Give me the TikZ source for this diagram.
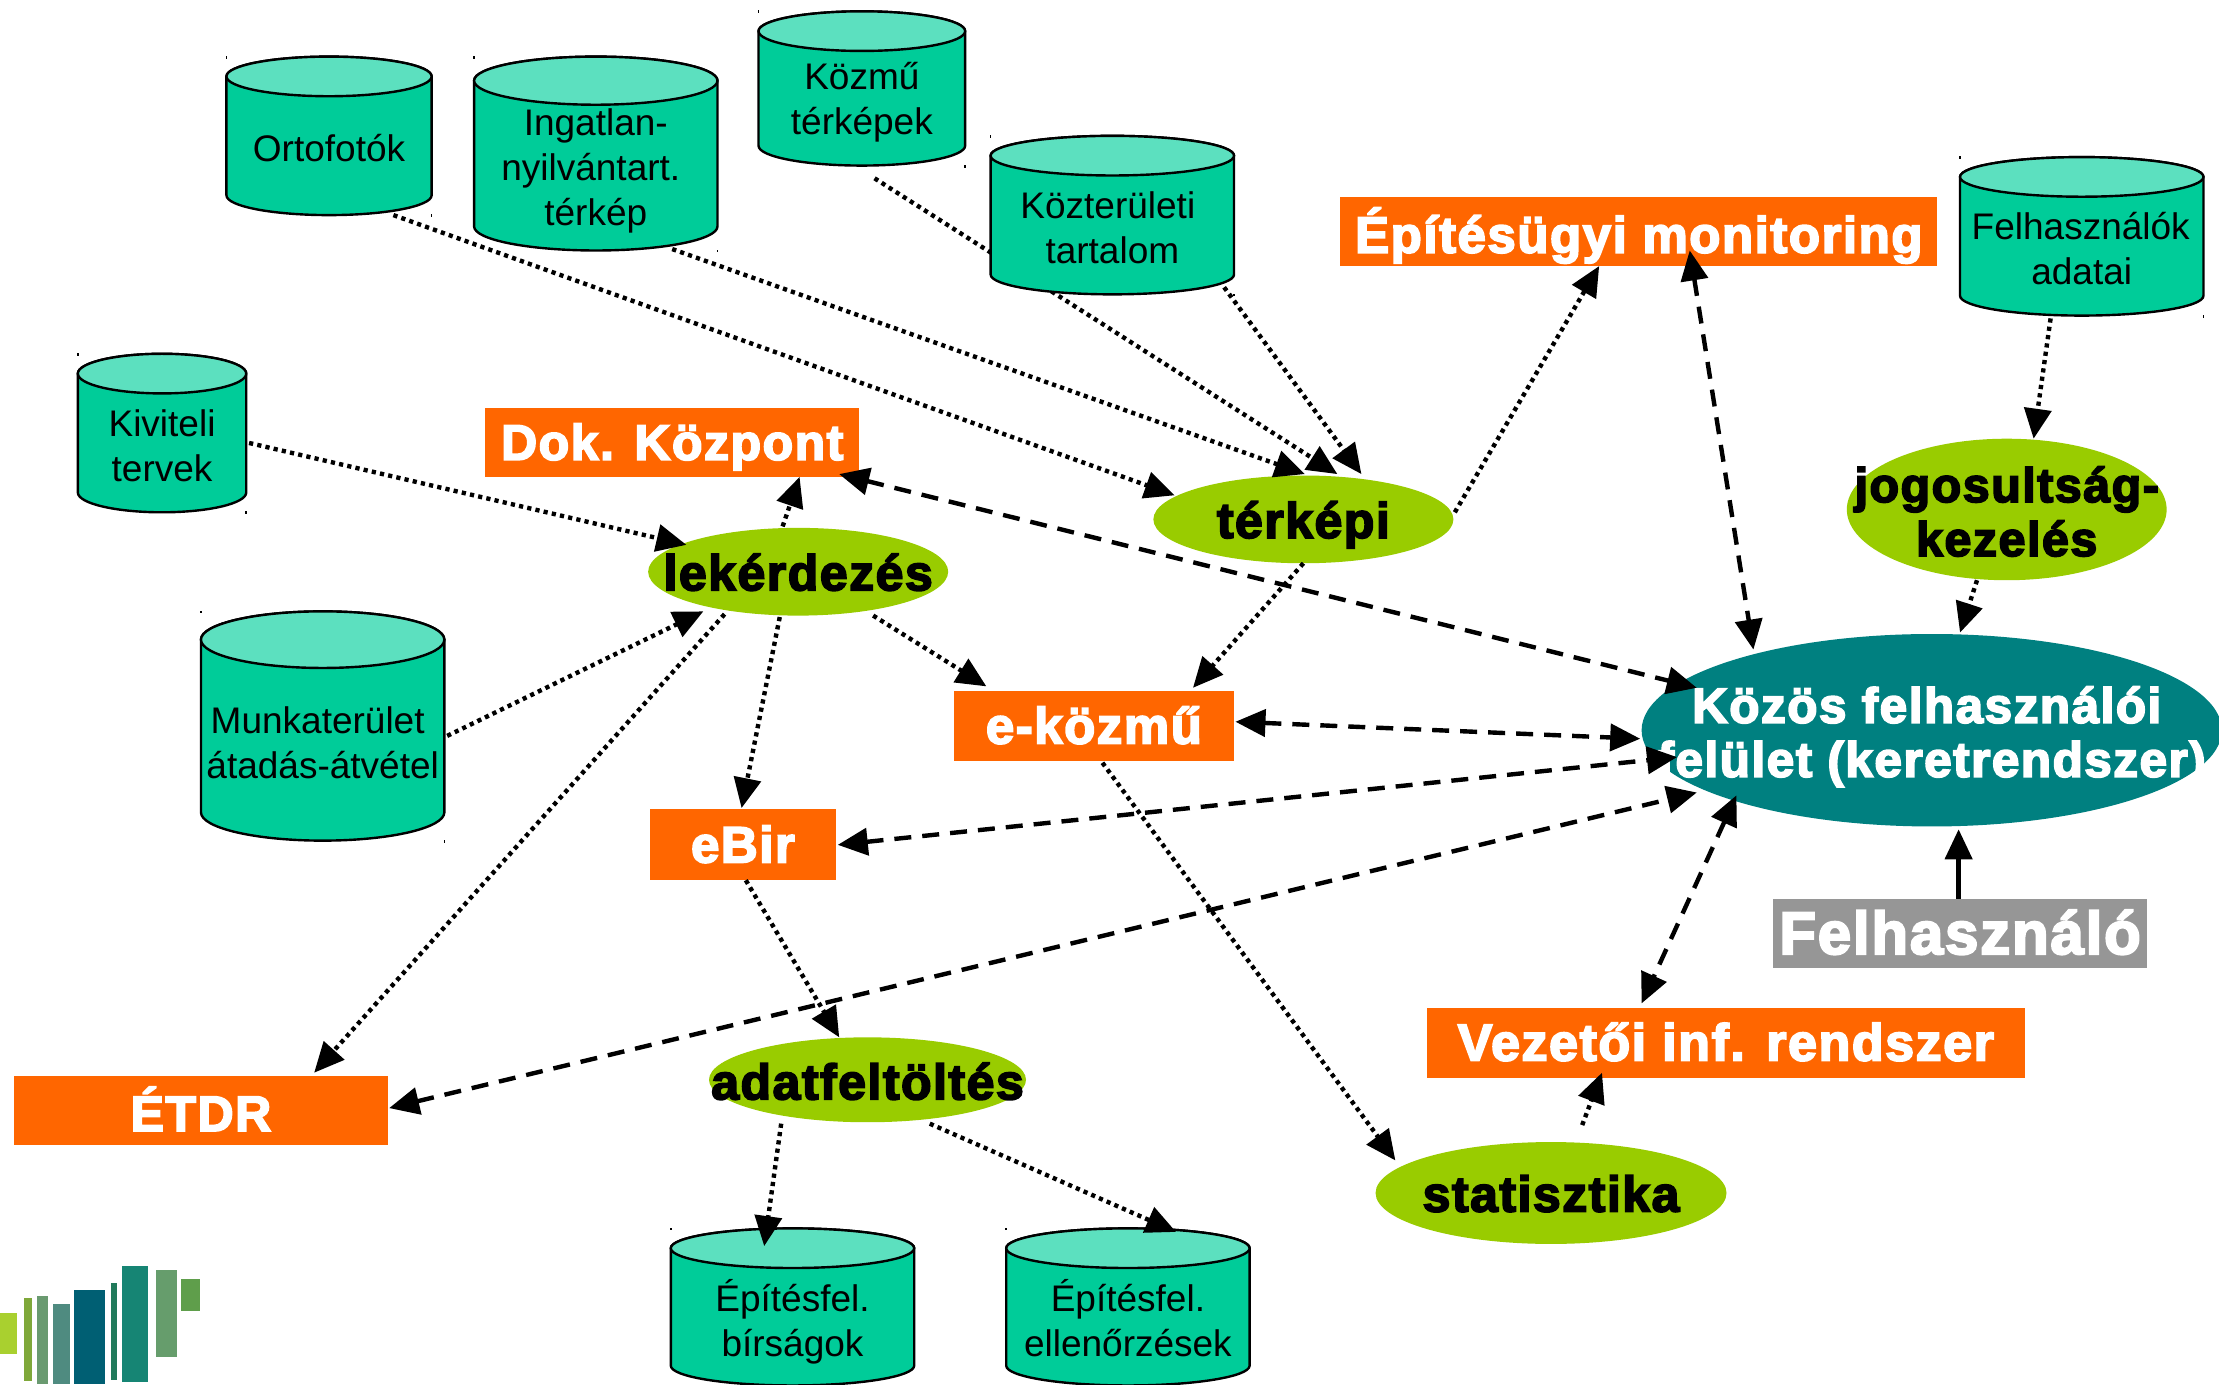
\documentclass[tikz,border=0pt]{standalone}
\usepackage{fontspec}
\usetikzlibrary{arrows.meta,shapes.geometric,calc}
\setmainfont{Liberation Sans}
\newfontfamily\lblfam{Liberation Sans}[BoldFeatures={FakeBold=3.5,LetterSpace=3}]
\definecolor{cyl}{HTML}{00CC99}
\definecolor{cyltop}{HTML}{5CE0BF}
\definecolor{org}{HTML}{FF6600}
\definecolor{lime}{HTML}{99CC00}
\definecolor{tealx}{HTML}{008080}
\definecolor{grayx}{HTML}{969696}
\definecolor{lg1}{HTML}{A9D02F}
\definecolor{lg2}{HTML}{7FA83A}
\definecolor{lg3}{HTML}{6A9A70}
\definecolor{lg4}{HTML}{4F8B80}
\definecolor{lg5}{HTML}{005F73}
\definecolor{lg6}{HTML}{217A5B}
\definecolor{lg7}{HTML}{168574}
\definecolor{lg8}{HTML}{669D6C}
\definecolor{lg9}{HTML}{5F9E4B}
\newcommand\Z[2][0pt]{\makebox[0pt][c]{\smash{\raisebox{#1}{\begin{tabular}[c]{@{}c@{}}#2\end{tabular}}}}}
\newcommand\Pt[3]{([shift={(#2,#3)}]#1.center)}
\newcommand\Fs[2]{\fontsize{#1}{#2}\selectfont}
\def\UU{1.41518pt}
\tikzset{
  x=1.41518pt,y=-1.41518pt,
  lbltxt/.style={font=\lblfam\bfseries\fontsize{50}{54}\selectfont},
  ctxt/.style={font=\fontsize{37}{45}\selectfont},
  rbox/.style={rectangle,inner sep=0pt,outer sep=0pt,lbltxt},
  ell/.style={ellipse,inner sep=0pt,outer sep=0pt,lbltxt},
  cylbody/.style={fill=cyl,draw=black,line width=2.4pt,line join=round},
  cyltopst/.style={fill=cyltop,draw=black,line width=2.4pt},
  dotline/.style={line width=4.4pt,dash pattern=on 4.2pt off 4.2pt,-{Triangle[length=30pt,width=27pt]}},
  dashline/.style={line width=4.4pt,dash pattern=on 17pt off 11pt,{Triangle[length=30pt,width=27pt]}-{Triangle[length=30pt,width=27pt]}},
  solidline/.style={line width=4.4pt,-{Triangle[length=30pt,width=27pt]}}
}
% name, x0,y0,x1,y1, fill, textcolor, text
\newcommand\RN[8]{\node[rbox,fill=#6,text=#7,minimum width={\UU*(#4-#2)},minimum height={\UU*(#5-#3)}] (#1) at ({(#2+#4)/2},{(#3+#5)/2}) {\Z[-13pt]{#8}};}
% name, cx,cy,rx,ry, fill, textcolor, raise, text
\newcommand\EN[9]{\node[ell,fill=#6,text=#7,minimum width={2*\UU*#4},minimum height={2*\UU*#5}] (#1) at (#2,#3) {\Z[#8]{#9}};}
% name, x0,y0,x1,y1, ry, raise, text
\newcommand\CY[8]{%
  \path[cylbody] (#2,#3+#6) -- (#2,#5-#6) arc[start angle=180,end angle=360,x radius={\UU*(#4-#2)/2},y radius={\UU*#6}] -- (#4,#3+#6) arc[start angle=0,end angle=180,x radius={\UU*(#4-#2)/2},y radius={\UU*#6}] -- cycle;
  \path[cyltopst] ({(#2+#4)/2},#3+#6) ellipse[x radius={\UU*(#4-#2)/2},y radius={\UU*#6}];
  \fill (#2-.6,#3-.6) rectangle (#2+.6,#3+1.4);
  \fill (#4-.6,#5-.6) rectangle (#4+.6,#5+1.4);
  \node[rectangle,inner sep=0pt,outer sep=0pt,ctxt,minimum width={\UU*(#4-#2)},minimum height={\UU*(#5-#3)}] (#1) at ({(#2+#4)/2},{(#3+#5)/2}) {\Z[#7]{#8}};}
\begin{document}
\begin{tikzpicture}
\useasboundingbox (0,0) rectangle (1568,978);
\fill[white] (0,0) rectangle (1568,978);
% logo
\begin{scope}[x=1pt,y=-1pt]
\fill[lg1] (0,1313) rectangle (17,1354);
\fill[lg2] (24,1298) rectangle (32,1381);
\fill[lg3] (37,1296) rectangle (48,1384);
\fill[lg4] (53,1304) rectangle (70,1384);
\fill[lg5] (74,1290) rectangle (105,1384);
\fill[lg6] (111,1283) rectangle (117,1380);
\fill[lg7] (122,1266) rectangle (148,1382);
\fill[lg8] (156,1270) rectangle (177,1357);
\fill[lg9] (181,1279) rectangle (200,1311);
\end{scope}
% ellipses and boxes
\EN{ter}{921}{367}{106}{31}{lime}{black}{-14pt}{térképi}
\EN{lek}{564}{404}{106}{31}{lime}{black}{-14pt}{lekérdezés}
\EN{jog}{1418}{360}{113}{50}{lime}{black}{-15pt}{\Fs{48.5}{52}jogosultság-\\\Fs{48.5}{52}kezelés}
\EN{koz}{1365}{516}{205}{68}{tealx}{white}{-15pt}{\Fs{49.5}{54}Közös felhasználói\hspace*{10pt}\\\Fs{49.5}{54}felület (keretrendszer)}
\EN{adat}{613}{763}{112}{30}{lime}{black}{-15pt}{adatfeltöltés}
\EN{stat}{1096}{843}{124}{36}{lime}{black}{-14pt}{statisztika}
\CY{kozmu}{536}{8}{682}{117}{14}{-21pt}{Közmű\\térképek}
\draw[dotline] \Pt{kozmu}{9}{63.5} -- \Pt{ter}{24}{-32};
\CY{orto}{160}{40}{305}{152}{14}{-23pt}{Ortofotók}
\CY{ing}{335}{40}{507}{177}{17}{-24pt}{Ingatlan-\\nyilvántart.\hspace*{10pt}\\térkép}
\CY{kozt}{700}{96}{872}{208}{14}{-23pt}{Közterületi\hspace*{9pt}\\tartalom}
\CY{felh}{1385}{111}{1557}{223}{14}{-23pt}{Felhasználók\hspace*{2pt}\\adatai}
\CY{kiv}{55}{250}{174}{362}{14}{-23pt}{Kiviteli\\tervek}
\CY{munk}{142}{432}{314}{594}{20}{-27pt}{Munkaterület\hspace*{10pt}\\átadás-átvétel}
\CY{bir}{474}{868}{646}{979}{14}{-24pt}{Építésfel.\\bírságok}
\CY{ell}{711}{868}{883}{979}{14}{-24pt}{Építésfel.\\ellenőrzések}
\RN{epit}{947}{139}{1369}{188}{org}{white}{\Fs{51}{54}Építésügyi monitoring}
\RN{dok}{343}{288}{607}{337}{org}{white}{Dok. Központ}
\RN{ek}{674}{488}{872}{538}{org}{white}{\Fs{51}{54}e-közmű}
\RN{ebir}{459}{572}{591}{622}{org}{white}{\Fs{51}{54}eBir}
\RN{etdr}{10}{760}{274}{809}{org}{white}{ÉTDR}
\RN{vez}{1008}{712}{1431}{762}{org}{white}{\Fs{52}{54}Vezetői inf. rendszer}
\RN{fhn}{1253}{635}{1517}{684}{grayx}{white}{\Fs{60}{60}Felhasználó}
% dotted
\draw[dotline] \Pt{orto}{45.5}{56} -- \Pt{ter}{-91}{-17};
\draw[dotline] \Pt{ing}{54}{67.5} -- \Pt{ter}{1}{-32};
\draw[dotline] \Pt{kozt}{79}{51} -- \Pt{ter}{41}{-32};
\draw[dotline] \Pt{ter}{107}{-5} -- \Pt{epit}{-28}{24.5};
\draw[dotline] \Pt{kiv}{61.5}{7} -- \Pt{lek}{-79}{-19};
\draw[dotline] \Pt{munk}{88}{7} -- \Pt{lek}{-67}{28};
\draw[dotline] \Pt{lek}{-11}{-32} -- \Pt{dok}{90}{24.5};
\draw[dotline] \Pt{lek}{53}{31} -- \Pt{ek}{-76}{-28};
\draw[dotline] \Pt{lek}{-13}{32} -- \Pt{ebir}{-1}{-26};
\draw[dotline] \Pt{lek}{-52}{30} -- \Pt{etdr}{80}{-26.5};
\draw[dotline] \Pt{ter}{0}{31} -- \Pt{ek}{70}{-27};
\draw[dotline] \Pt{ek}{6}{26} -- \Pt{stat}{-110}{-23};
\draw[dotline] \Pt{ebir}{2}{25} -- \Pt{adat}{-20}{-30};
\draw[dotline] \Pt{adat}{-61}{31} -- \Pt{bir}{-20}{-43};
\draw[dotline] \Pt{adat}{44}{31} -- \Pt{ell}{34}{-53};
\draw[dotline] \Pt{stat}{22}{-48} -- \Pt{vez}{-87.5}{21};
\draw[dotline] \Pt{felh}{-22}{58} -- \Pt{jog}{19}{-50};
\draw[dotline] \Pt{jog}{-21}{50} -- \Pt{koz}{20}{-69};
% dashed
\draw[dashline] \Pt{dok}{118}{22.5} -- \Pt{koz}{-166}{-30};
\draw[dashline] \Pt{epit}{36}{13.5} -- \Pt{koz}{-126}{-57};
\draw[dashline] \Pt{ek}{100}{-3} -- \Pt{koz}{-206}{6};
\draw[dashline] \Pt{ebir}{67}{0} -- \Pt{koz}{-180}{19};
\draw[dashline] \Pt{etdr}{133}{-1.5} -- \Pt{koz}{-166}{44};
\draw[dashline] \Pt{koz}{-138}{46} -- \Pt{vez}{-59.5}{-28};
% solid
\draw[solidline] \Pt{fhn}{-1}{-24.5} -- \Pt{koz}{19}{70};
\end{tikzpicture}
\end{document}
